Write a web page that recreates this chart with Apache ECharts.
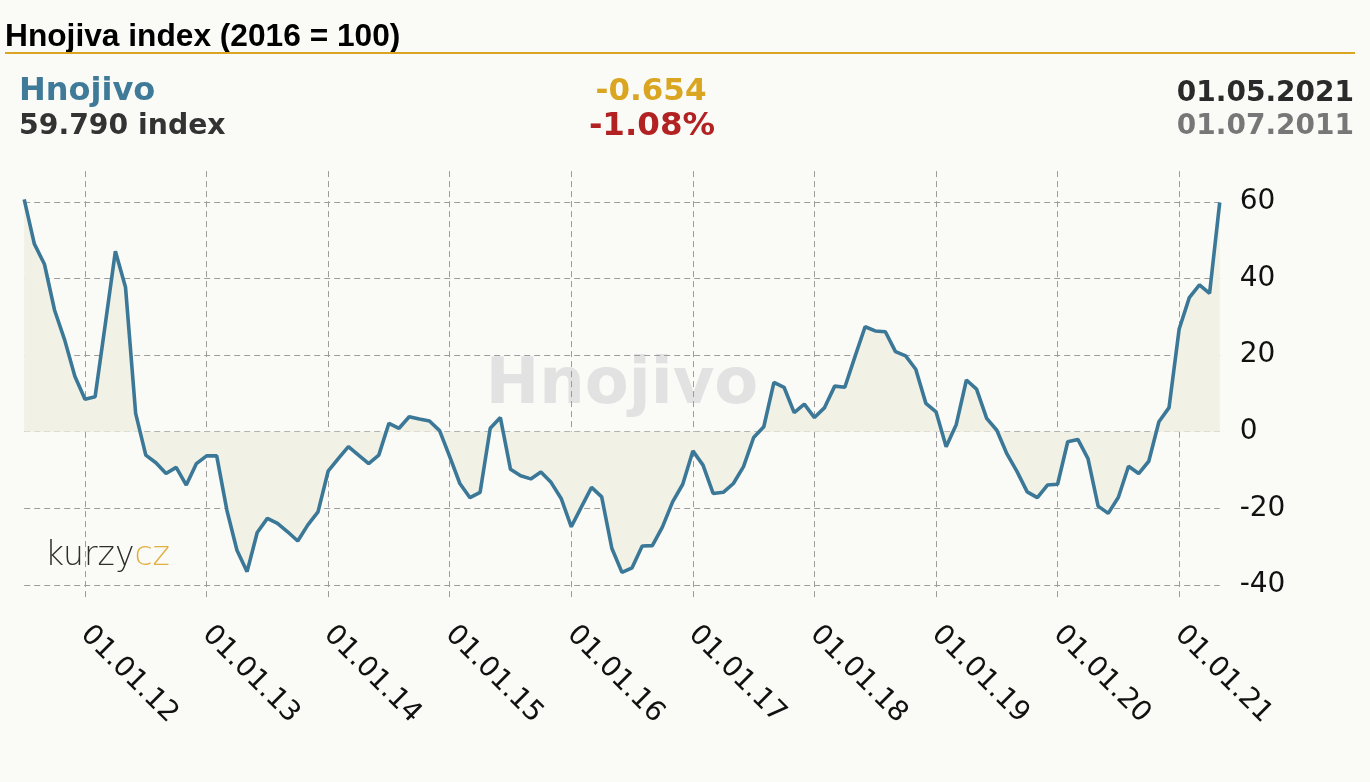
<!DOCTYPE html>
<html>
<head>
<meta charset="utf-8">
<script src="https://cdn.jsdelivr.net/npm/echarts@6/dist/echarts.min.js"></script>
<style>
html,body{margin:0;padding:0;background:#fafaf6;}
#chart{width:1370px;height:782px;}
</style>
</head>
<body>
<div id="chart"></div>
<script>
const categories = [
'01.07.11','01.08.11','01.09.11','01.10.11','01.11.11','01.12.11',
'01.01.12','01.02.12','01.03.12','01.04.12','01.05.12','01.06.12','01.07.12','01.08.12','01.09.12','01.10.12','01.11.12','01.12.12',
'01.01.13','01.02.13','01.03.13','01.04.13','01.05.13','01.06.13','01.07.13','01.08.13','01.09.13','01.10.13','01.11.13','01.12.13',
'01.01.14','01.02.14','01.03.14','01.04.14','01.05.14','01.06.14','01.07.14','01.08.14','01.09.14','01.10.14','01.11.14','01.12.14',
'01.01.15','01.02.15','01.03.15','01.04.15','01.05.15','01.06.15','01.07.15','01.08.15','01.09.15','01.10.15','01.11.15','01.12.15',
'01.01.16','01.02.16','01.03.16','01.04.16','01.05.16','01.06.16','01.07.16','01.08.16','01.09.16','01.10.16','01.11.16','01.12.16',
'01.01.17','01.02.17','01.03.17','01.04.17','01.05.17','01.06.17','01.07.17','01.08.17','01.09.17','01.10.17','01.11.17','01.12.17',
'01.01.18','01.02.18','01.03.18','01.04.18','01.05.18','01.06.18','01.07.18','01.08.18','01.09.18','01.10.18','01.11.18','01.12.18',
'01.01.19','01.02.19','01.03.19','01.04.19','01.05.19','01.06.19','01.07.19','01.08.19','01.09.19','01.10.19','01.11.19','01.12.19',
'01.01.20','01.02.20','01.03.20','01.04.20','01.05.20','01.06.20','01.07.20','01.08.20','01.09.20','01.10.20','01.11.20','01.12.20',
'01.01.21','01.02.21','01.03.21','01.04.21','01.05.21'
];
const values = [
60.6,49.0,43.7,31.7,23.9,14.5,
8.5,9.1,28.0,47.1,37.7,4.8,-6.1,-8.1,-10.9,-9.3,-13.9,-8.3,
-6.3,-6.3,-20.4,-30.9,-36.5,-26.3,-22.6,-23.9,-26.1,-28.5,-24.3,-20.9,
-10.3,-7.0,-3.9,-6.1,-8.3,-6.1,2.2,0.9,3.9,3.3,2.8,0.3,
-6.5,-13.5,-17.2,-15.8,0.9,3.7,-9.8,-11.5,-12.3,-10.5,-13.2,-17.4,
-24.8,-19.6,-14.5,-17.0,-30.4,-36.7,-35.5,-29.8,-29.7,-24.8,-18.3,-13.7,
-5.0,-8.7,-16.1,-15.8,-13.5,-9.1,-1.5,1.3,12.9,11.6,5.0,7.2,
3.7,6.3,11.9,11.6,19.6,27.4,26.3,26.1,20.9,19.8,16.3,7.4,
5.2,-3.9,1.9,13.5,11.1,3.5,0.4,-5.8,-10.4,-15.7,-17.2,-13.9,
-13.7,-2.6,-2.0,-7.0,-19.4,-21.3,-17.1,-9.0,-10.9,-7.7,2.6,6.3,
26.8,35.0,38.3,36.1,59.79
];
const yTicks = [-40,-20,0,20,40,60];
const titleText = 'Hnojiva index (2016 = 100)';
const seriesName = 'Hnojivo';
const lastValueText = '59.790 index';
const changeText = '-0.654';
const changePctText = '-1.08%';
const endDateText = '01.05.2021';
const startDateText = '01.07.2011';

const janIdx = (i) => categories[i].indexOf('01.01.') === 0;

const chart = echarts.init(document.getElementById('chart'));
const dashed = {color:'#9c9c9c', width:1, type:[6,4]};
chart.setOption({
  backgroundColor:'#fafaf6',
  animation:false,
  grid:{left:24.2, right:150.3, top:171.1, bottom:181.6, containLabel:false},
  xAxis:{
    type:'category', data:categories, boundaryGap:false,
    axisLine:{show:false},
    axisTick:{show:true, length:8, interval:janIdx, lineStyle:dashed},
    splitLine:{show:true, interval:janIdx, lineStyle:dashed},
    axisLabel:{interval:janIdx, rotate:-45, margin:30, color:'#111', fontSize:28, fontFamily:'DejaVu Sans'}
  },
  yAxis:{
    type:'value', position:'right', min:-44, max:68,
    axisLine:{show:false},
    axisTick:{show:false, customValues:yTicks},
    splitLine:{show:true, lineStyle:dashed},
    axisLabel:{customValues:yTicks, margin:20, color:'#111', fontSize:28, fontFamily:'DejaVu Sans'}
  },
  graphic:[
    {type:'text', left:5, top:21, style:{text:titleText, font:'bold 31.7px "Liberation Sans", Arial', fill:'#000'}},
    {type:'line', shape:{x1:5,y1:53,x2:1355,y2:53}, style:{stroke:'#daa520', lineWidth:2}},
    {type:'text', x:19, y:92, style:{text:seriesName, font:'bold 32px "DejaVu Sans"', fill:'#3f7a99', textVerticalAlign:'middle'}},
    {type:'text', x:19, y:127, style:{text:lastValueText, font:'bold 28.3px "DejaVu Sans"', fill:'#333', textVerticalAlign:'middle'}},
    {type:'text', x:651, y:92, style:{text:changeText, font:'bold 31px "DejaVu Sans"', fill:'#daa520', textAlign:'center', textVerticalAlign:'middle'}},
    {type:'text', x:652, y:127, style:{text:changePctText, font:'bold 32.5px "DejaVu Sans"', fill:'#b22222', textAlign:'center', textVerticalAlign:'middle'}},
    {type:'text', x:1354, y:94, style:{text:endDateText, font:'bold 28px "DejaVu Sans"', fill:'#2a2a2a', textAlign:'right', textVerticalAlign:'middle'}},
    {type:'text', x:1354, y:127, style:{text:startDateText, font:'bold 28px "DejaVu Sans"', fill:'#777', textAlign:'right', textVerticalAlign:'middle'}},
    {type:'text', x:622, y:386, z:-1, style:{text:seriesName, font:'bold 64px "DejaVu Sans"', fill:'#e2e2e3', textAlign:'center', textVerticalAlign:'middle'}},
    {type:'text', x:45, y:556, style:{
      text:'{a|kurzy}{b|cz}', textVerticalAlign:'middle',
      rich:{a:{fontFamily:'DejaVu Sans', fontWeight:200, fontSize:33, fill:'#2e2e2e', color:'#2e2e2e'},
            b:{fontFamily:'DejaVu Sans', fontWeight:200, fontSize:33, fill:'#e0b040', color:'#e0b040'}}
    }}
  ],
  series:[{
    type:'line', data:values, symbol:'none', smooth:false,
    lineStyle:{color:'#3b7897', width:3.6},
    areaStyle:{color:'#f1f1e6', origin:'auto', opacity:1},
    z:3
  }]
});
</script>
</body>
</html>
